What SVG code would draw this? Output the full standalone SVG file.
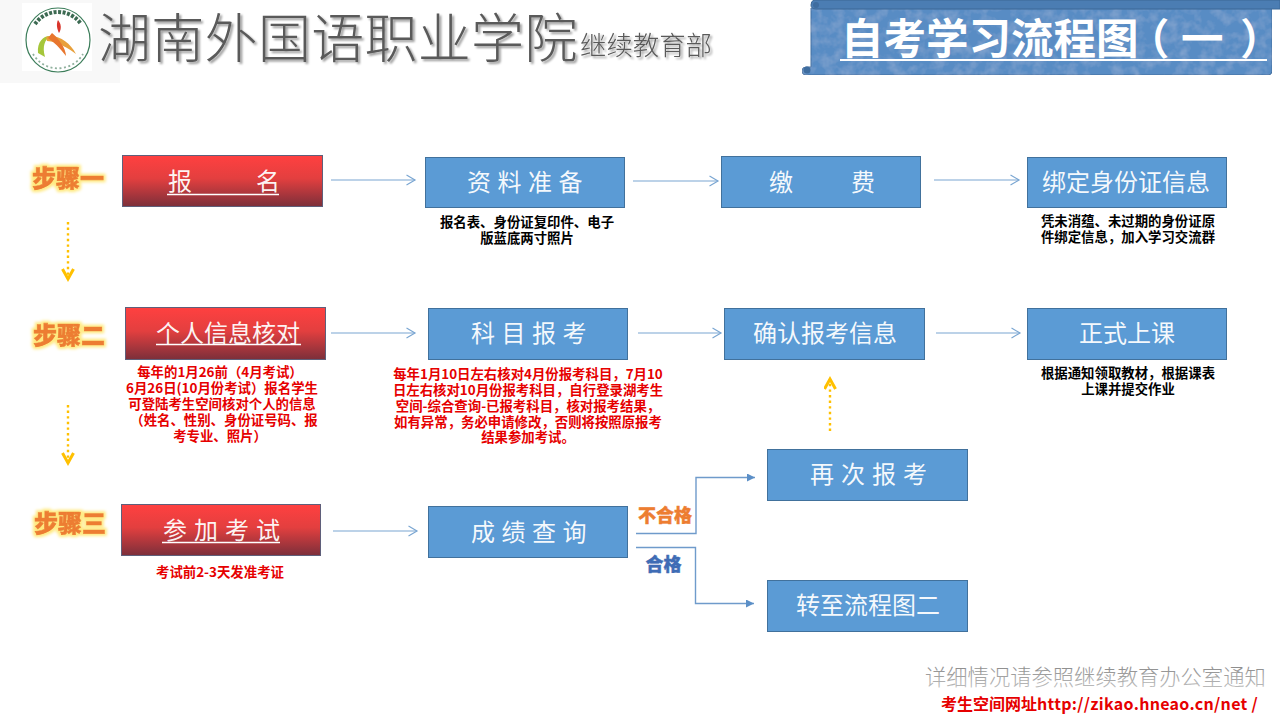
<svg xmlns="http://www.w3.org/2000/svg" width="1280" height="720" viewBox="0 0 1280 720">
<style>
text{font-family:"Noto Sans CJK SC","Liberation Sans",sans-serif}
.blue{fill:#5b9bd5;stroke:#41719c;stroke-width:1}
.red{fill:url(#redg);stroke:#5f5f7a;stroke-width:1}
.lbl{fill:#fff;font-size:24px;text-anchor:middle;fill-opacity:.95}
.ul{stroke:#fff;stroke-width:1.5}
.cap{fill:#000;font-size:13.400px;font-weight:700;text-anchor:middle}
.rcap{fill:#e60000;font-size:13.400px;font-weight:700;text-anchor:middle}
.step{fill:#ed7d31;font-size:24px;font-weight:900;text-anchor:middle;stroke:#ed7d31;stroke-width:.6}
.flow{fill:none;stroke:#7aa6d2;stroke-width:1.2;marker-end:url(#open)}
.elbow{fill:none;stroke:#6f9bcb;stroke-width:1.4;marker-end:url(#solid)}
.dot{fill:none;stroke:#ffc000;stroke-width:2.4;stroke-dasharray:2.4 3.2;marker-end:url(#gold)}
</style>
<defs>
<linearGradient id="redg" x1="0" y1="0" x2="0" y2="1"><stop offset="0" stop-color="#ff4040"/><stop offset=".45" stop-color="#e33f3f"/><stop offset="1" stop-color="#7c2f3a"/></linearGradient>
<linearGradient id="greyg" x1="0" y1="0" x2="0" y2="1"><stop offset="0" stop-color="#7d7d7d"/><stop offset="1" stop-color="#c4c4c4"/></linearGradient>
<filter id="stepglow" x="-20%" y="-40%" width="140%" height="180%"><feMorphology in="SourceAlpha" operator="dilate" radius="2.4" result="d"/><feGaussianBlur in="d" stdDeviation="1.4" result="b"/><feFlood flood-color="#ffe97f"/><feComposite in2="b" operator="in" result="g"/><feMerge><feMergeNode in="g"/><feMergeNode in="SourceGraphic"/></feMerge></filter>
<filter id="shadow" x="-5%" y="-20%" width="110%" height="140%"><feDropShadow dx="2" dy="2" stdDeviation="1.200" flood-color="#000" flood-opacity=".4"/></filter>
<filter id="tex" x="0" y="0" width="100%" height="100%"><feTurbulence type="fractalNoise" baseFrequency=".09" numOctaves="3" seed="4"/><feColorMatrix values="0 0 0 0 .9  0 0 0 0 .95  0 0 0 0 1  0 0 0 .3 -.12"/><feComposite in2="SourceAlpha" operator="in" result="n"/><feMerge><feMergeNode in="SourceGraphic"/><feMergeNode in="n"/></feMerge></filter>
<marker id="open" markerUnits="userSpaceOnUse" markerWidth="12" markerHeight="14" refX="9.500" refY="6" orient="auto"><path d="M1 1L9.500 6L1 11" fill="none" stroke="#7aa6d2" stroke-width="1.2"/></marker>
<marker id="solid" markerUnits="userSpaceOnUse" markerWidth="10" markerHeight="10" refX="8" refY="4" orient="auto"><path d="M0 0L8 4L0 8Z" fill="#5b8fc7"/></marker>
<marker id="gold" markerUnits="userSpaceOnUse" markerWidth="16" markerHeight="14" refX="11" refY="6.500" orient="auto"><path d="M1 1L11 6.500L1 12" fill="none" stroke="#ffc000" stroke-width="3"/></marker>
</defs>
<rect width="1280" height="720" fill="#fff"/>
<g id="header">
<rect x="0" y="0" width="120" height="83" fill="#f8f8f8"/>
<g id="logo">
<rect x="22" y="3" width="70" height="68" fill="#fff"/>
<circle cx="58" cy="40" r="32" fill="#fff" stroke="#3c7d5a" stroke-width="1.200"/>
<path d="M35 24A28 28 0 0 1 81 24" fill="none" stroke="#3c6a52" stroke-width="4" stroke-dasharray="3 1.500"/>
<path d="M33 54A29 29 0 0 0 83 54" fill="none" stroke="#8fb09d" stroke-width="1.800" stroke-dasharray="2 2.500"/>
<path d="M38 53C37 42 43 36 50 36C45 40 42 46 45 57Z" fill="#a5c63b"/>
<path d="M46 37C56 33 70 42 76 54C68 48 58 42 47 41Z" fill="#e8a03b"/>
<path d="M52 33C58 38 66 48 66 56C60 48 54 42 48 38Z" fill="#e8762e"/>
<path d="M58 20C61 24 62 28 59 33C57 29 56 24 58 20Z" fill="#d9352b"/>
</g>
<text x="98" y="58" font-size="53" font-weight="300" fill="#5a5a5a" filter="url(#shadow)" style="letter-spacing:.3px">湖南外国语职业学院</text>
<text x="580" y="55" font-size="26.400" font-weight="300" fill="#5a5a5a" filter="url(#shadow)">继续教育部</text>
</g>
<g id="title-banner">
<path d="M811 8H1272V71Q1272 75 1268 75H806Q802 75 802 71Q802 67 806 67H811Z" fill="#588cc4" stroke="#456f9f" filter="url(#tex)"/>
<path d="M814 0H1280V9H816Q811 9 811 5Q811 1 814 0Z" fill="#4b7db3" stroke="#3d6896"/>
<circle cx="816" cy="5" r="3" fill="#3f6d9f"/>
<circle cx="807" cy="70" r="3.500" fill="#3f6d9f"/>
<text y="54" font-size="42.500" font-weight="700" fill="#fff"><tspan x="841">自考学习流程图</tspan><tspan x="1127">（</tspan><tspan x="1181">一</tspan><tspan x="1240">）</tspan></text>
<line x1="840" y1="60" x2="1267" y2="60" stroke="#fff" stroke-width="2"/>
</g>
<g id="connectors">
<path class="flow" d="M331 180H415"/>
<path class="flow" d="M633 181H718"/>
<path class="flow" d="M934 180H1019"/>
<path class="flow" d="M331 333H415"/>
<path class="flow" d="M638 333H721"/>
<path class="flow" d="M936 333H1020"/>
<path class="flow" d="M333 531H417"/>
<path class="elbow" d="M636 533.500H696V477.500H755"/>
<path class="elbow" d="M636 547.500H695.500V603.500H754"/>
<path class="dot" d="M68 222V279"/>
<path class="dot" d="M68 405V463"/>
<path class="dot" d="M830 431V379"/>
</g>
<g id="step1"><text class="step" x="68" y="187" filter="url(#stepglow)">步骤一</text></g>
<g id="step2"><text class="step" x="69" y="344" filter="url(#stepglow)">步骤二</text></g>
<g id="step3"><text class="step" x="70" y="532" filter="url(#stepglow)">步骤三</text></g>
<g id="n-baoming"><rect class="red" x="122.500" y="155.500" width="200" height="51"/><text class="lbl" x="224" y="190">报<tspan dx="64">名</tspan></text><line class="ul" x1="167" y1="194.500" x2="279" y2="194.500"/></g>
<g id="n-ziliao"><rect class="blue" x="425.500" y="157.500" width="199" height="50"/><text class="lbl" x="528" y="191" style="letter-spacing:6.500px">资料准备</text></g>
<g id="n-jiaofei"><rect class="blue" x="721.500" y="156.500" width="199" height="51"/><text class="lbl" x="822" y="191">缴<tspan dx="58">费</tspan></text></g>
<g id="n-bangding"><rect class="blue" x="1027.500" y="157.500" width="199" height="50"/><text class="lbl" x="1126" y="191">绑定身份证信息</text></g>
<g id="n-hedui"><rect class="red" x="125.500" y="307.500" width="200" height="52"/><text class="lbl" x="228" y="342">个人信息核对</text><line class="ul" x1="156" y1="344.500" x2="301" y2="344.500"/></g>
<g id="n-kemu"><rect class="blue" x="428.500" y="308.500" width="199" height="51"/><text class="lbl" x="532" y="342" style="letter-spacing:6.500px">科目报考</text></g>
<g id="n-queren"><rect class="blue" x="724.500" y="308.500" width="200" height="51"/><text class="lbl" x="825" y="342">确认报考信息</text></g>
<g id="n-shangke"><rect class="blue" x="1027.500" y="308.500" width="199" height="51"/><text class="lbl" x="1127" y="342">正式上课</text></g>
<g id="n-canjia"><rect class="red" x="121.500" y="504.500" width="199" height="51"/><text class="lbl" x="225" y="539" style="letter-spacing:7px">参加考试</text><line class="ul" x1="162" y1="542.500" x2="280" y2="542.500"/></g>
<g id="n-chengji"><rect class="blue" x="428.500" y="506.500" width="199" height="51"/><text class="lbl" x="532" y="541" style="letter-spacing:6.500px">成绩查询</text></g>
<g id="n-zaici"><rect class="blue" x="767.500" y="449.500" width="200" height="51"/><text class="lbl" x="872" y="483" style="letter-spacing:7px">再次报考</text></g>
<g id="n-zhuan"><rect class="blue" x="767.500" y="580.500" width="200" height="51"/><text class="lbl" x="868" y="614">转至流程图二</text></g>
<g id="captions">
<text class="cap"><tspan x="527" y="227">报名表、身份证复印件、电子</tspan><tspan x="527" y="243">版蓝底两寸照片</tspan></text>
<text class="cap"><tspan x="1128" y="226">凭未消蕴、未过期的身份证原</tspan><tspan x="1128" y="242">件绑定信息，加入学习交流群</tspan></text>
<text class="cap"><tspan x="1128" y="378">根据通知领取教材，根据课表</tspan><tspan x="1128" y="394">上课并提交作业</tspan></text>
<text class="rcap"><tspan x="220" y="377">每年的1月26前（4月考试）</tspan><tspan x="222" y="393">6月26日(10月份考试）报名学生</tspan><tspan x="222" y="409">可登陆考生空间核对个人的信息</tspan><tspan x="224" y="425">（姓名、性别、身份证号码、报</tspan><tspan x="220" y="441">考专业、照片）</tspan></text>
<text class="rcap"><tspan x="528" y="379">每年1月10日左右核对4月份报考科目，7月10</tspan><tspan x="528" y="395">日左右核对10月份报考科目，自行登录湖考生</tspan><tspan x="528" y="411">空间-综合查询-已报考科目，核对报考结果，</tspan><tspan x="528" y="427">如有异常，务必申请修改，否则将按照原报考</tspan><tspan x="528" y="442">结果参加考试。</tspan></text>
<text class="rcap" x="220" y="577">考试前2-3天发准考证</text>
</g>
<g id="edge-labels">
<text x="665" y="522" font-size="18" font-weight="900" fill="#ed7d31" stroke="#ed7d31" stroke-width=".4" text-anchor="middle">不合格</text>
<text x="663.500" y="571" font-size="18" font-weight="900" fill="#3f6cb5" stroke="#3f6cb5" stroke-width=".4" text-anchor="middle">合格</text>
</g>
<g id="footer">
<text x="925" y="685" font-size="21.300" font-weight="300" fill="url(#greyg)">详细情况请参照继续教育办公室通知</text>
<text x="941" y="710" font-size="16" font-weight="700" fill="#e60000">考生空间网址<tspan style="letter-spacing:.3px">http://zikao.hneao.cn/net /</tspan></text>
</g>
</svg>
